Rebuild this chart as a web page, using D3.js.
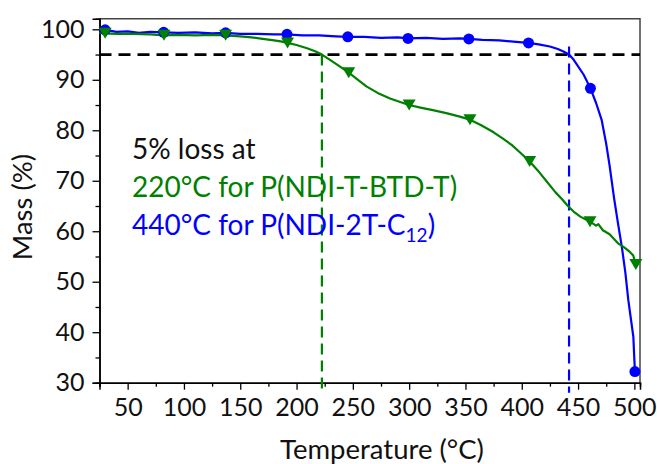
<!DOCTYPE html>
<html>
<head>
<meta charset="utf-8">
<script src="https://cdn.jsdelivr.net/npm/d3@7"></script>
<style>
  html, body { margin: 0; padding: 0; background: #fff; }
  svg { display: block; font-family: Lato, "Open Sans", sans-serif; }
</style>
</head>
<body>
<svg id="chart" width="657" height="464"></svg>
<script>
// TGA curves: temperature (°C) vs remaining mass (%)
const blueT = [25, 30, 40, 50, 60, 70, 82, 95, 110, 125, 137, 150, 165, 180, 191.5, 205, 220, 235, 245.5, 260, 275, 290, 299, 315, 330, 345, 353, 365, 380, 395, 406, 415, 425, 432, 437, 442, 446, 449, 455, 461, 466, 471, 475, 478, 482, 485.5, 489, 492, 494.6, 497, 499.1, 499.7, 500.5];
const blueM = [99.9, 99.9, 99.5, 99.6, 99.3, 99.5, 99.4, 99.3, 99.4, 99.2, 99.3, 99.1, 99.1, 99.0, 99.0, 98.8, 98.8, 98.6, 98.5, 98.5, 98.3, 98.4, 98.2, 98.3, 98.1, 98.2, 98.1, 97.9, 97.8, 97.5, 97.3, 97.0, 96.6, 96.1, 95.6, 95.0, 94.0, 93.0, 91.0, 88.3, 85.4, 82.0, 77.3, 73.0, 66.5, 61.5, 56.7, 51.8, 46.4, 42.5, 39.1, 36.0, 32.2];

const greenT = [25, 30, 40, 55, 70, 82.3, 95, 110, 125, 137, 150, 160, 170, 180, 186, 192, 200, 210, 217, 222.5, 230, 238, 246.3, 254, 262, 272, 283, 292, 300, 310, 321, 333, 345, 354, 364, 375, 383, 391, 399, 407, 414, 422, 430, 436, 441, 446, 452, 457, 460.6, 466, 468, 472, 478, 485.5, 491, 496, 499, 501.3];
const greenM = [99.3, 99.2, 99.1, 99.1, 99.0, 98.8, 98.9, 98.8, 98.9, 98.8, 98.6, 98.4, 98.1, 97.8, 97.6, 97.3, 96.9, 96.2, 95.6, 95.0, 93.9, 92.7, 91.4, 90.1, 88.7, 87.4, 86.3, 85.6, 85.0, 84.5, 84.0, 83.4, 82.7, 82.1, 81.0, 79.6, 78.4, 77.1, 75.5, 73.8, 72.1, 69.9, 67.7, 66.3, 65.0, 63.9, 62.9, 62.3, 61.9, 61.1, 61.4, 60.2, 59.4, 57.6, 56.8, 55.9, 55.2, 53.4];

// symbol positions along each curve
const blueMarkT = [30, 82, 137, 191.5, 245.5, 299, 353, 406, 461, 500.5];
const blueMarkM = [99.9, 99.4, 99.3, 99.0, 98.5, 98.2, 98.1, 97.3, 88.3, 32.2];
const greenMarkT = [30, 82.3, 137, 192, 246.3, 300, 354, 407, 460.6, 501.3];
const greenMarkM = [99.2, 98.8, 98.8, 97.3, 91.4, 85.0, 82.1, 73.8, 61.9, 53.4];

// 5 % loss guides
const lossLevel = 95;
const greenOnset = 222.5;
const blueOnset = 442;

const xTicks = [50, 100, 150, 200, 250, 300, 350, 400, 450, 500];
const xMinor = [25, 75, 125, 175, 225, 275, 325, 375, 425, 475];
const yTicks = [30, 40, 50, 60, 70, 80, 90, 100];
const yMinor = [35, 45, 55, 65, 75, 85, 95];

const GREEN = "#008000";
const BLUE = "#0000ff";

const svg = d3.select("#chart");
const L = 99.5, R = 640, T = 18.7, B = 382.7;

const x = d3.scaleLinear().domain([25, 505]).range([L, R]);
const y = d3.scaleLinear().domain([30, 102.1]).range([B, T]);

// frame: top and right edges
svg.append("path")
  .attr("d", `M${L},${T}H${R}V${B}`)
  .attr("fill", "none").attr("stroke", "#444").attr("stroke-width", 1.5);

// axes
const xAxis = svg.append("g").attr("transform", `translate(0,${B})`)
  .call(d3.axisBottom(x).tickValues(xTicks).tickSize(7).tickPadding(5).tickFormat(d3.format("d")));
const xAxisMinor = svg.append("g").attr("transform", `translate(0,${B})`)
  .call(d3.axisBottom(x).tickValues(xMinor).tickSize(4).tickFormat(""));
const yAxis = svg.append("g").attr("transform", `translate(${L},0)`)
  .call(d3.axisLeft(y).tickValues(yTicks).tickSize(7).tickPadding(8).tickFormat(d3.format("d")));
const yAxisMinor = svg.append("g").attr("transform", `translate(${L},0)`)
  .call(d3.axisLeft(y).tickValues(yMinor).tickSize(4).tickFormat(""));

[xAxis, xAxisMinor, yAxis, yAxisMinor].forEach(g => {
  g.select(".domain").attr("stroke", "#000").attr("stroke-width", 1.5);
  g.selectAll(".tick line").attr("stroke", "#000").attr("stroke-width", 1.3);
  g.selectAll("text").attr("fill", "#111").style("font-family", "Lato, sans-serif").style("font-size", "25px");
});
xAxis.selectAll("text").attr("dy", "0.85em");

// axis titles
svg.append("text")
  .attr("x", 382).attr("y", 459)
  .attr("text-anchor", "middle")
  .style("font-size", "27.5px").attr("fill", "#111")
  .text("Temperature (°C)");
svg.append("text")
  .attr("transform", "translate(32,207) rotate(-90)")
  .attr("text-anchor", "middle")
  .style("font-size", "27.5px").attr("fill", "#111")
  .text("Mass (%)");

// guide lines
svg.append("line")
  .attr("x1", x(25)).attr("x2", x(505))
  .attr("y1", y(lossLevel)).attr("y2", y(lossLevel))
  .attr("stroke", "#000").attr("stroke-width", 2.8).attr("stroke-dasharray", "12,7");
svg.append("line")
  .attr("x1", x(greenOnset)).attr("x2", x(greenOnset))
  .attr("y1", y(lossLevel)).attr("y2", y(28))
  .attr("stroke", GREEN).attr("stroke-width", 2.2).attr("stroke-dasharray", "11,6");
svg.append("line")
  .attr("x1", x(blueOnset)).attr("x2", x(blueOnset))
  .attr("y1", y(96.6)).attr("y2", y(28))
  .attr("stroke", BLUE).attr("stroke-width", 2.2).attr("stroke-dasharray", "11,6");

// curves
const line = d3.line().x(d => x(d[0])).y(d => y(d[1]));
svg.append("path")
  .datum(blueT.map((t, i) => [t, blueM[i]]))
  .attr("d", line).attr("fill", "none").attr("stroke", BLUE).attr("stroke-width", 2.2).attr("stroke-linejoin", "round");
svg.append("path")
  .datum(greenT.map((t, i) => [t, greenM[i]]))
  .attr("d", line).attr("fill", "none").attr("stroke", GREEN).attr("stroke-width", 2.2).attr("stroke-linejoin", "round");

// symbols
svg.append("g").selectAll("circle")
  .data(blueMarkT.map((t, i) => [t, blueMarkM[i]]))
  .join("circle")
  .attr("cx", d => x(d[0])).attr("cy", d => y(d[1])).attr("r", 5.5).attr("fill", BLUE);

const tri = (cx, cy) => `M${cx - 6.5},${cy - 5.5}L${cx + 6.5},${cy - 5.5}L${cx},${cy + 5.5}Z`;
svg.append("g").selectAll("path")
  .data(greenMarkT.map((t, i) => [t, greenMarkM[i]]))
  .join("path")
  .attr("d", d => tri(x(d[0]), y(d[1]))).attr("fill", GREEN);

// annotation block
const note = svg.append("g").style("font-size", "28px");
note.append("text").attr("x", 132).attr("y", 158.5).attr("fill", "#111").text("5% loss at");
note.append("text").attr("x", 132).attr("y", 197).attr("fill", GREEN).text("220°C for P(NDI-T-BTD-T)");
const t3 = note.append("text").attr("x", 132).attr("y", 235).attr("fill", BLUE);
t3.append("tspan").text("440°C for P(NDI-2T-C");
t3.append("tspan").attr("dy", 7).style("font-size", "19px").text("12");
t3.append("tspan").attr("dy", -7).text(")");
</script>
</body>
</html>
